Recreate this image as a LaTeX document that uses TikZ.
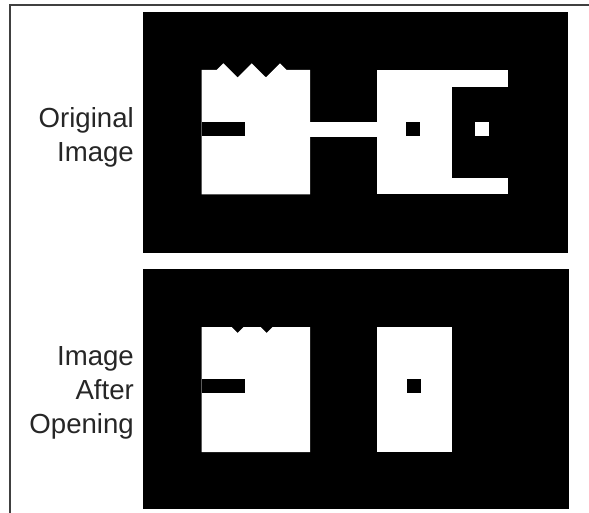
\documentclass[tikz,border=0pt]{standalone}
\usepackage{fontspec}
\setmainfont{Liberation Sans}
\usetikzlibrary{positioning}

\tikzset{
  rotulo/.style={anchor=base east, inner sep=0pt, text=black!85,
    font=\fontsize{27.6}{33}\selectfont},
}

\begin{document}
\begin{tikzpicture}[x=1pt, y=-1pt]
    \useasboundingbox (0,0) rectangle (589,513);

    % Moldura
    \draw[black!75, line width=2pt] (9.5,513) -- (9.5,5) -- (589,5);

    % Imagem original
    \fill[black] (143,12) rectangle (568,253);
    \fill[white] (201.7,194.5) -- (201.7,70) -- (216.6,70) -- (223.3,63.3)
        -- (237.5,77.5) -- (251.7,63.3) -- (266,77.5) -- (280,63.3)
        -- (286.7,70) -- (310,70) -- (310,194.5) -- cycle;
    \fill[black] (201.7,122) rectangle (245,136);
    \fill[white] (309,122) rectangle (378,136.7);
    \fill[white] (376.7,70) rectangle (508.3,194.5);
    \fill[black] (451.7,86.7) rectangle (509,178.3);
    \fill[black] (406,121.7) rectangle (420,135.7);
    \fill[white] (475,121.7) rectangle (489,135.7);
    \node[rotulo] (orig) at (134,127.2) {Original};
    \node[rotulo] (img1) at (134,161.5) {Image};

    % Imagem apos abertura
    \fill[black] (143,269) rectangle (569,509);
    \fill[white] (201.7,452) -- (201.7,327) -- (231.5,327) -- (237.5,333)
        -- (243.5,327) -- (260.5,327) -- (266.5,333) -- (272.5,327)
        -- (310,327) -- (310,452) -- cycle;
    \fill[black] (201.7,379) rectangle (245,393);
    \fill[white] (376.7,327) rectangle (451.7,452);
    \fill[black] (406.7,379) rectangle (420.6,393);
    \node[rotulo] (img2) at (134,365.3) {Image};
    \node[rotulo] (depois) at (134,399.4) {After};
    \node[rotulo] (abert) at (134,433.8) {Opening};
\end{tikzpicture}
\end{document}
